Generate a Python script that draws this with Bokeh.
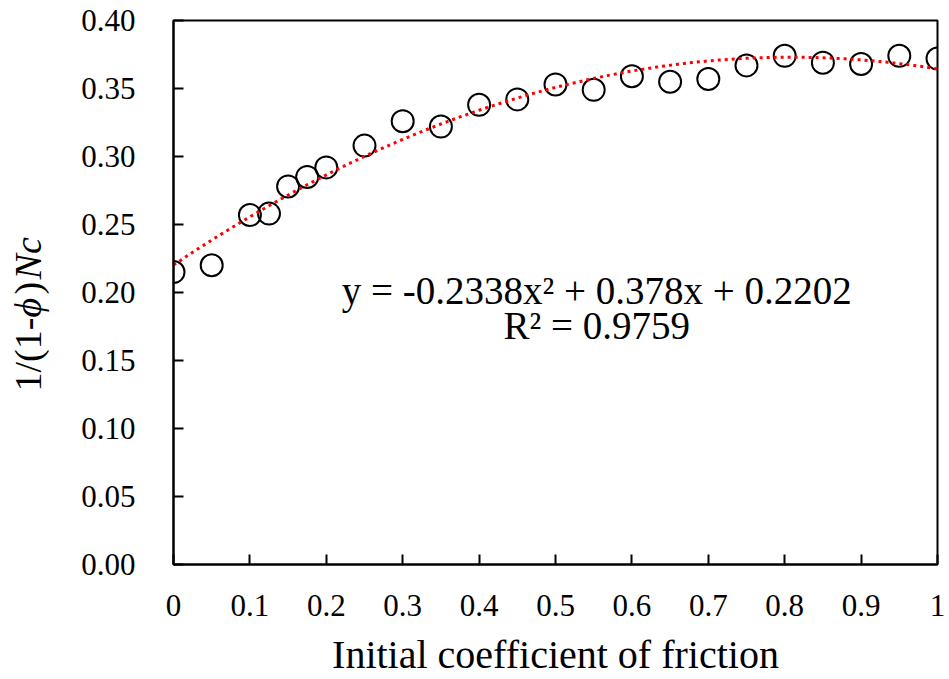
import numpy as np
from bokeh.plotting import figure
from bokeh.layouts import row
from bokeh.models import Range1d, FixedTicker, NumeralTickFormatter, CustomJSTickFormatter, Label
from bokeh.embed import file_html
from bokeh.resources import INLINE

# ---- data ----
friction = [0, 0.05, 0.1, 0.125, 0.15, 0.175, 0.2, 0.25, 0.3, 0.35, 0.4, 0.45,
            0.5, 0.55, 0.6, 0.65, 0.7, 0.75, 0.8, 0.85, 0.9, 0.95, 1.0]
inv_nc = [0.215, 0.220, 0.257, 0.258, 0.278, 0.285, 0.292, 0.308, 0.326, 0.322,
          0.338, 0.342, 0.353, 0.349, 0.359, 0.355, 0.357, 0.367, 0.374, 0.369,
          0.368, 0.374, 0.372]
trend_coef = [-0.2338, 0.378, 0.2202]   # quadratic trendline shown on chart
r_squared = "0.9759"
x_ticks = [0, 0.1, 0.2, 0.3, 0.4, 0.5, 0.6, 0.7, 0.8, 0.9, 1.0]
y_ticks = [0, 0.05, 0.10, 0.15, 0.20, 0.25, 0.30, 0.35, 0.40]
y_title_parts = ["1/(1-", "\u03d5", ")", "Nc"]
y_title_styles = ["normal", "italic", "normal", "italic"]

FONT = "Liberation Serif"
H = 679
LEFT_W = 60

# ---- narrow panel holding the rotated y-axis title ----
t = figure(width=LEFT_W, height=H, output_backend="svg", toolbar_location=None,
           title=None, x_range=Range1d(0, LEFT_W), y_range=Range1d(0, H),
           x_axis_type=None, y_axis_type=None,
           min_border_left=0, min_border_right=0, min_border_top=0, min_border_bottom=0)
t.outline_line_color = None
t.xgrid.visible = False
t.ygrid.visible = False
t.background_fill_color = "white"
t.border_fill_color = "white"
offsets = [0, 74, 97, 112]   # pixel advances along the rotated title
for txt, style, off in zip(y_title_parts, y_title_styles, offsets):
    t.add_layout(Label(x=27, y=H - 393 - 70, y_offset=off, text=txt, angle=np.pi / 2,
                       text_align="left", text_baseline="middle", text_font=FONT,
                       text_font_size="38px", text_font_style=style,
                       text_color="black"))

# ---- main plot ----
p = figure(width=949 - LEFT_W, height=H, output_backend="svg", toolbar_location=None,
           x_range=Range1d(0, 1), y_range=Range1d(0, 0.4),
           min_border_left=173 - LEFT_W, min_border_right=12, min_border_top=20,
           min_border_bottom=115)
p.background_fill_color = "white"
p.border_fill_color = "white"
p.outline_line_color = "black"
p.outline_line_width = 2
p.xgrid.visible = False
p.ygrid.visible = False

p.scatter(friction, inv_nc, marker="circle", size=22, fill_color=None,
          line_color="black", line_width=2)

xt = np.linspace(0, 1, 200)
yt = np.polyval(trend_coef, xt)
p.line(xt, yt, line_color="#FF0000", line_width=3, line_dash="3 4")

for ax in (p.xaxis[0], p.yaxis[0]):
    ax.axis_line_color = "black"
    ax.axis_line_width = 2
    ax.major_tick_in = 10
    ax.major_tick_out = 0
    ax.major_tick_line_color = "black"
    ax.major_tick_line_width = 2
    ax.minor_tick_line_color = None
    ax.major_label_text_font = FONT
    ax.major_label_text_font_size = "31px"
    ax.major_label_text_color = "black"
    ax.axis_label_text_font = FONT
    ax.axis_label_text_font_style = "normal"
    ax.axis_label_text_color = "black"

p.xaxis.ticker = FixedTicker(ticks=x_ticks)
p.xaxis.formatter = CustomJSTickFormatter(code="return String(Math.round(tick*10)/10);")
p.xaxis.major_label_standoff = 30
p.xaxis.axis_label = "Initial coefficient of friction"
p.xaxis.axis_label_text_font_size = "40px"
p.xaxis.axis_label_standoff = 13

p.yaxis.ticker = FixedTicker(ticks=y_ticks)
p.yaxis.formatter = NumeralTickFormatter(format="0.00")
p.yaxis.major_label_standoff = 38

p.add_layout(Label(x=0.554, y=0.2015, text="y = -0.2338x\u00b2 + 0.378x + 0.2202",
                   text_align="center", text_baseline="middle", text_font=FONT,
                   text_font_size="39px", text_color="black"))
p.add_layout(Label(x=0.554, y=0.1757, text="R\u00b2 = " + r_squared,
                   text_align="center", text_baseline="middle", text_font=FONT,
                   text_font_size="39px", text_color="black"))

layout = row(t, p, spacing=0)
open("out.html", "w").write(file_html(layout, INLINE))
